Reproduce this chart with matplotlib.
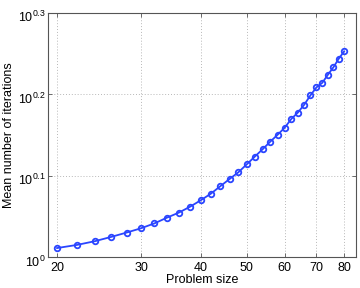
import matplotlib
matplotlib.use("Agg")
import matplotlib.pyplot as plt
import matplotlib.ticker as mticker
import matplotlib.transforms as mtrans
import numpy as np

plt.rcParams['font.family'] = ['Liberation Sans', 'DejaVu Sans']
plt.rcParams['mathtext.fontset'] = 'custom'
plt.rcParams['mathtext.rm'] = 'Liberation Sans'
plt.rcParams['mathtext.it'] = 'Liberation Sans'

# problem sizes and mean iterations
sizes = [20, 22, 24, 26, 28, 30, 32, 34, 36, 38, 40, 42, 44, 46, 48, 50,
         52, 54, 56, 58, 60, 62, 64, 66, 68, 70, 72, 74, 76, 78, 80]
mean_iters = [1.027, 1.036, 1.047, 1.060, 1.073, 1.086, 1.101, 1.119,
              1.135, 1.154, 1.175, 1.197, 1.223, 1.248, 1.272, 1.301,
              1.330, 1.358, 1.387, 1.414, 1.442, 1.479, 1.506, 1.540,
              1.581, 1.617, 1.638, 1.676, 1.712, 1.754, 1.790]
xticks = [20, 30, 40, 50, 60, 70, 80]
yexps = [0, 0.1, 0.2, 0.3]

fig = plt.figure(figsize=(3.6, 2.88), dpi=100)
ax = fig.add_axes([0.132, 0.106, 0.858, 0.849])

ax.loglog(sizes, mean_iters, '-o', color='#2a45ff', lw=1.3,
          ms=4, mfc='none', mew=1.3)

ax.set_xlim(19.1, 84.9)
ax.set_ylim(1, 10 ** 0.3)
ax.xaxis.set_minor_locator(mticker.NullLocator())
ax.yaxis.set_minor_locator(mticker.NullLocator())
ax.set_xticks(xticks)
ax.set_xticklabels([str(v) for v in xticks])
ax.set_yticks([10 ** e for e in yexps])
ax.set_yticklabels([r'$\mathregular{10^{%s}}$' % ('0' if e == 0 else str(e)) for e in yexps])

ax.grid(True, which='major', ls=(0, (1, 2)), color='#b8b8b8', lw=0.7)
ax.tick_params(direction='in', top=True, right=True, labelsize=9,
               length=3, width=0.6, color='#555555', pad=3)
ax.tick_params(axis='y', pad=1.5)
shift = mtrans.ScaledTranslation(0, -3 / 100, fig.dpi_scale_trans)
for lab in ax.get_yticklabels():
    lab.set_transform(lab.get_transform() + shift)
for s in ax.spines.values():
    s.set_color('#555555')
    s.set_linewidth(0.8)

ax.set_xlabel('Problem size', fontsize=9, labelpad=0)
ax.set_ylabel('Mean number of iterations', fontsize=9, labelpad=2)

fig.savefig('out.png', dpi=100)
